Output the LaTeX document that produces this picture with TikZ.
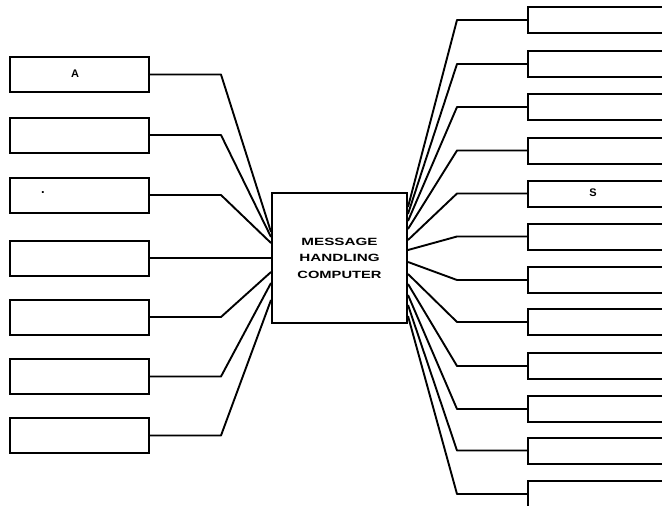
\documentclass[tikz,border=0pt]{standalone}
\usepackage{fontspec}
\setmainfont{Liberation Sans}
\usepackage{graphicx}
\begin{document}
\begin{tikzpicture}[x=1pt,y=-1pt,
  wire/.style={line width=1.9pt,line join=round},
  lbox/.style={draw,line width=2pt,minimum width=139pt,minimum height=35pt,inner sep=0pt},
  rbox/.style={draw,line width=2pt,minimum width=160pt,minimum height=26pt,inner sep=0pt},
  cbox/.style={draw,line width=2pt,minimum width=135pt,minimum height=130pt,inner sep=0pt,
    align=center,font=\fontsize{10.5}{16.5}\selectfont\bfseries},
  lab/.style={inner sep=0pt,font=\fontsize{11}{12}\selectfont\bfseries}]
\useasboundingbox (0,0) rectangle (662,506);
\clip (0,0) rectangle (662,506);
% centre
\node[cbox] (C) at (339.5,258) {\scalebox{1.45}[1]{MESSAGE}\\\scalebox{1.45}[1]{HANDLING}\\\scalebox{1.4}[1]{COMPUTER}};
% left boxes
\foreach \i/\y in {1/74.5,2/135,3/195,4/258,5/317,6/376.5,7/435.5}{
  \node[lbox] (L\i) at (79.5,\y) {};
}
\node[lab] (la) at (75,74) {A};
\node[lab,font=\fontsize{13}{12}\selectfont\bfseries] (ldot) at (43,193) {.};
% left connectors
\foreach \i/\e in {1/232,2/237,3/243,5/272,6/283,7/300}{
  \draw[wire] (L\i.east) -- ++(71,0) -- (C.west |- 0,\e);
}
\draw[wire] (L4.east) -- (C.west);
% right boxes
\foreach \i/\y in {1/20,2/64,3/107,4/150.5,5/193.5,6/236.5,7/280,8/322,9/366,10/409,11/450.5,12/494}{
  \node[rbox] (R\i) at (608,\y) {};
}
\node[lab] (rs) at (593,193) {S};
% right connectors
\foreach \i/\e in {1/207,2/214,3/221,4/229,5/240,6/250,7/262,8/274,9/284,10/295,11/305,12/316}{
  \draw[wire] (R\i.west) -- ++(-70,0) -- (C.east |- 0,\e);
}
\end{tikzpicture}
\end{document}
